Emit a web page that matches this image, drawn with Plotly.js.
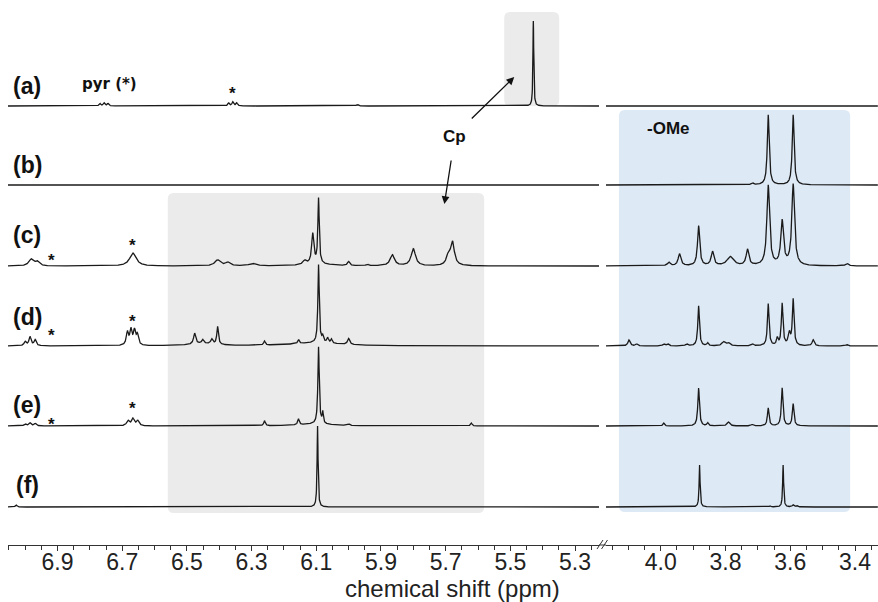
<!DOCTYPE html>
<html><head><meta charset="utf-8">
<script src="https://cdn.plot.ly/plotly-3.0.1.min.js"></script>
<style>html,body{margin:0;padding:0;background:#fff}#chart{width:878px;height:602px}</style>
</head><body><div id="chart"></div>
<script>
// ---------------- DATA ----------------
const spectrumLabels = ['(a)','(b)','(c)','(d)','(e)','(f)'];
const stackOffsets = [439, 360, 279, 199, 119, 38];

// peak lists: [ppm, height, half-width (ppm)]
const peaksA_left = [[6.769,2.5,0.003],[6.756,3,0.003],[6.744,2.5,0.003],[6.371,3,0.003],[6.358,4,0.003],[6.346,3,0.003],[5.973,1.5,0.004],[5.429,85,0.0015]];
const peaksA_right = [];
const peaksB_left = [];
const peaksB_right = [[3.717,2,0.004],[3.668,70,0.0035],[3.591,70,0.0035]];
const peaksC_left = [[6.982,6.5,0.008],[6.963,4.5,0.008],[6.667,13,0.012],[6.405,6,0.01],[6.374,3.5,0.008],[6.297,2.5,0.012],[6.136,4,0.006],[6.111,30,0.004],[6.093,65,0.0025],[6.000,4,0.004],[5.942,1.5,0.004],[5.865,11,0.008],[5.800,17,0.008],[5.692,9,0.007],[5.679,23,0.007],[6.10,2,0.05]];
const peaksC_right = [[3.975,3.5,0.005],[3.942,12,0.005],[3.883,40,0.004],[3.840,14,0.005],[3.785,9,0.012],[3.732,16,0.005],[3.668,80,0.005],[3.625,44,0.005],[3.591,81,0.005],[3.425,2.5,0.005]];
const peaksD_left = [[7.000,4,0.004],[6.985,9,0.004],[6.969,6,0.004],[6.684,13,0.004],[6.673,15,0.004],[6.662,14,0.004],[6.653,10,0.004],[6.476,11,0.004],[6.451,4,0.004],[6.423,5,0.004],[6.405,18,0.003],[6.260,4,0.003],[6.155,4,0.003],[6.093,78,0.0025],[6.080,6,0.003],[6.065,5,0.003],[6.053,4,0.003],[6.000,6,0.004],[6.10,3,0.1],[6.45,2,0.05]];
const peaksD_right = [[4.098,6,0.004],[4.074,2,0.004],[3.991,2,0.004],[3.978,2,0.004],[3.920,2,0.004],[3.883,40,0.003],[3.855,3,0.003],[3.806,4,0.006],[3.791,3,0.006],[3.717,2,0.004],[3.668,42,0.003],[3.640,7,0.003],[3.625,42,0.003],[3.603,12,0.004],[3.591,46,0.003],[3.529,6,0.004],[3.425,1.5,0.004]];
const peaksE_left = [[7.000,2,0.004],[6.985,3,0.004],[6.969,2.5,0.004],[6.682,5,0.005],[6.667,7,0.005],[6.652,5,0.005],[6.260,5,0.003],[6.155,6,0.003],[6.093,77,0.0025],[6.080,11,0.002],[6.000,1.5,0.004],[5.621,3,0.003],[6.10,2,0.06]];
const peaksE_right = [[3.991,3,0.003],[3.883,38,0.003],[3.855,3,0.003],[3.791,4,0.005],[3.717,1.5,0.004],[3.668,18,0.003],[3.625,38,0.003],[3.591,22,0.003]];
const peaksF_left = [[7.028,2,0.003],[6.096,81,0.0018]];
const peaksF_right = [[3.880,42,0.0018],[3.662,1,0.003],[3.622,42,0.0018],[3.591,2,0.003],[3.580,1.5,0.003]];

const leftPeaks = [peaksA_left,peaksB_left,peaksC_left,peaksD_left,peaksE_left,peaksF_left];
const rightPeaks = [peaksA_right,peaksB_right,peaksC_right,peaksD_right,peaksE_right,peaksF_right];

const leftTicks = [6.9,6.7,6.5,6.3,6.1,5.9,5.7,5.5,5.3];
const rightTicks = [4.0,3.8,3.6,3.4];
const leftRange = [7.053, 5.226];
const rightRange = [4.169, 3.329];

// highlighted regions [ppm start, ppm end, y bottom, y top]
const cpBoxA = [5.519, 5.349, 439, 533];
const cpBoxBig = [6.559, 5.581, 32, 352];
const omeBox = [4.129, 3.415, 33, 435];

// ---------------- BUILD ----------------
function buildGrid(lo, hi, peaks){
  const xs = [];
  for (let x = hi; x >= lo; x -= 0.0005) xs.push(+x.toFixed(5));
  peaks.forEach(p => xs.push(p[0]));
  xs.sort((a,b)=>b-a);
  return xs;
}
function spectrum(xs, peaks, off){
  return xs.map(x => {
    let s = 0;
    for (const [c,h,w] of peaks){ const d=(x-c)/w; s += h/(1+d*d); }
    return off + s;
  });
}
const lineStyle = {color:'#1a1a1a', width:1.3};
const traces = [];
for (let i=0;i<6;i++){
  const xl = buildGrid(leftRange[1], leftRange[0], leftPeaks[i]);
  traces.push({x:xl, y:spectrum(xl,leftPeaks[i],stackOffsets[i]), xaxis:'x', yaxis:'y', mode:'lines', line:lineStyle, hoverinfo:'skip', showlegend:false});
  const xr = buildGrid(rightRange[1], rightRange[0], rightPeaks[i]);
  traces.push({x:xr, y:spectrum(xr,rightPeaks[i],stackOffsets[i]), xaxis:'x2', yaxis:'y', mode:'lines', line:lineStyle, hoverinfo:'skip', showlegend:false});
}

function roundRect(xa, xb, yb, yt, rx, ry, xref, color){
  const dx = xb > xa ? rx : -rx;
  const path = `M ${xa+dx},${yb} L ${xb-dx},${yb} Q ${xb},${yb} ${xb},${yb+ry} L ${xb},${yt-ry} Q ${xb},${yt} ${xb-dx},${yt} L ${xa+dx},${yt} Q ${xa},${yt} ${xa},${yt-ry} L ${xa},${yb+ry} Q ${xa},${yb} ${xa+dx},${yb} Z`;
  return {type:'path', path, xref, yref:'y', fillcolor:color, line:{width:0}, layer:'below'};
}

const W = 870, L = 8, H = 545;
const px = v => (v - L)/W;
const py = v => (H - v)/H;

const shapes = [
  roundRect(cpBoxA[0], cpBoxA[1], cpBoxA[2], cpBoxA[3], 0.0185, 6, 'x', '#ebebeb'),
  roundRect(cpBoxBig[0], cpBoxBig[1], cpBoxBig[2], cpBoxBig[3], 0.0185, 6, 'x', '#ebebeb'),
  roundRect(omeBox[0], omeBox[1], omeBox[2], omeBox[3], 0.0185, 6, 'x2', '#dde9f5'),
  {type:'line', xref:'paper', yref:'paper', x0:px(599), x1:px(606), y0:0, y1:0, line:{color:'#333', width:1}},
  {type:'line', xref:'paper', yref:'paper', x0:px(597), x1:px(603), y0:py(549), y1:py(540), line:{color:'#333', width:1}},
  {type:'line', xref:'paper', yref:'paper', x0:px(601.5), x1:px(607.5), y0:py(549), y1:py(540), line:{color:'#333', width:1}}
];

const sans = 'Liberation Sans, Arial, sans-serif';
const ann = [];
const labelY = [459, 380, 310, 228, 140, 60];
spectrumLabels.forEach((t,i)=>ann.push({text:'<b>'+t+'</b>', xref:'paper', yref:'y', x:px(27), y:labelY[i], xanchor:'center', yanchor:'middle', showarrow:false, font:{family:sans, size:23, color:'#111'}}));
// peak markers (*)
const starX = [6.358, 6.920, 6.667, 6.920, 6.667, 6.920, 6.667];
const starY = [452, 285, 300, 210, 224, 121, 137];
starX.forEach((x,i)=>ann.push({text:'<b>*</b>', xref:'x', yref:'y', x:x, y:starY[i], xanchor:'center', yanchor:'middle', showarrow:false, font:{family:sans, size:17, color:'#111'}}));
ann.push({text:'<b>pyr (*)</b>', xref:'x', yref:'y', x:6.738, y:461, xanchor:'center', yanchor:'middle', showarrow:false, font:{family:'DejaVu Sans, sans-serif', size:15, color:'#111'}});
ann.push({text:'<b>Cp</b>', xref:'x', yref:'y', x:5.673, y:409, xanchor:'center', yanchor:'middle', showarrow:false, font:{family:sans, size:17, color:'#111'}});
ann.push({text:'<b>-OMe</b>', xref:'x2', yref:'y', x:3.975, y:417, xanchor:'center', yanchor:'middle', showarrow:false, font:{family:sans, size:17, color:'#111'}});
ann.push({text:'', xref:'x', yref:'y', x:5.488, y:468, ax:-44, ay:43, showarrow:true, arrowhead:2, arrowsize:1.2, arrowwidth:1.3, arrowcolor:'#111'});
ann.push({text:'', xref:'x', yref:'y', x:5.704, y:341, ax:7, ay:-45, showarrow:true, arrowhead:2, arrowsize:1.2, arrowwidth:1.3, arrowcolor:'#111'});
ann.push({text:'chemical shift (ppm)', xref:'paper', yref:'paper', x:px(452), y:py(588), xanchor:'center', yanchor:'middle', showarrow:false, font:{family:sans, size:24, color:'#222'}});

const axisCommon = {
  showgrid:false, zeroline:false, showline:true, linecolor:'#333', linewidth:1,
  ticks:'outside', ticklen:5, tickcolor:'#333', tickwidth:1,
  tickfont:{family:sans, size:23, color:'#222'}, tickmode:'array', ticklabelstandoff:-9,
  minor:{tickmode:'linear', tick0:0, dtick:0.05, ticks:'outside', ticklen:4, tickcolor:'#333', tickwidth:1, showgrid:false},
  fixedrange:true
};
const layout = {
  width:878, height:602, margin:{l:L, r:0, t:0, b:57},
  paper_bgcolor:'#fff', plot_bgcolor:'#fff', showlegend:false,
  xaxis: Object.assign({}, axisCommon, {domain:[0, px(599)], range:leftRange, tickvals:leftTicks, ticktext:leftTicks.map(v=>v.toFixed(1)), anchor:'y'}),
  xaxis2: Object.assign({}, axisCommon, {domain:[px(606), 1], range:rightRange, tickvals:rightTicks, ticktext:rightTicks.map(v=>v.toFixed(1)), anchor:'y'}),
  yaxis: {range:[0,545], visible:false, fixedrange:true},
  shapes, annotations:ann
};
Plotly.newPlot('chart', traces, layout, {displayModeBar:false, staticPlot:true});
</script></body></html>
